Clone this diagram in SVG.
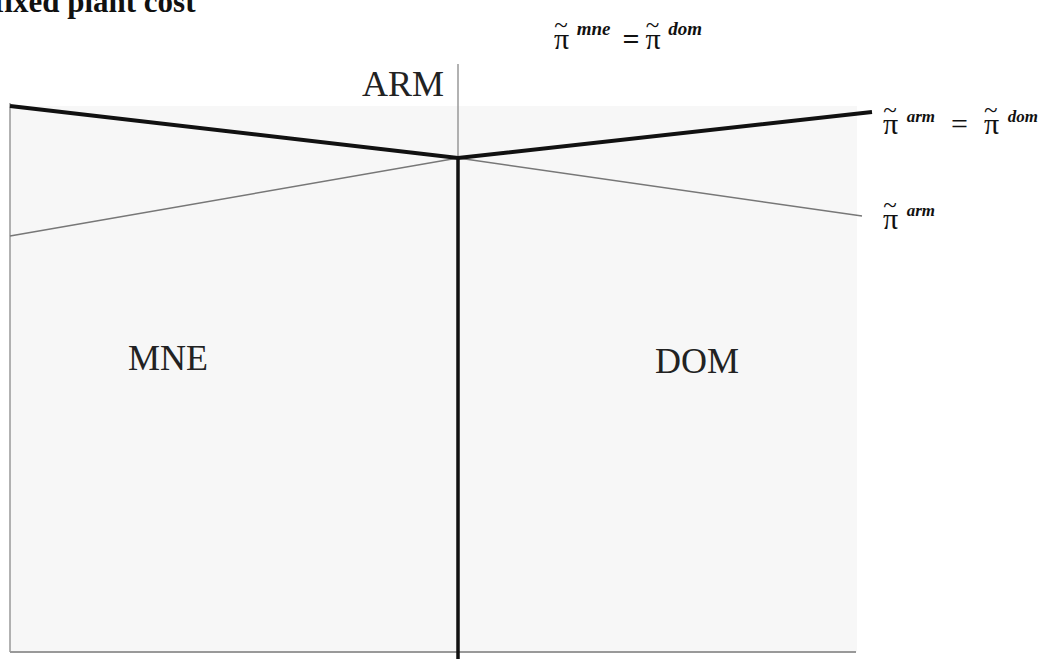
<svg xmlns="http://www.w3.org/2000/svg" width="1051" height="659" viewBox="0 0 1051 659">
<style>
.t{font-family:"Liberation Serif",serif;fill:#111}
.pi{font-family:"Liberation Serif",serif;font-size:30px;fill:#111}
.tl{font-size:25px}
.sup{font-family:"Liberation Serif",serif;font-size:19px;font-weight:bold;font-style:italic;fill:#111}
.sm{font-size:17px}
.lab{font-family:"Liberation Serif",serif;font-size:36px;fill:#222}
</style>
<rect width="1051" height="659" fill="#fff"/>
<g id="plot-area">
<rect x="10" y="106" width="847" height="546" fill="#f7f7f7"/>
<line x1="10" y1="103" x2="10" y2="652" stroke="#999" stroke-width="1.5"/>
<line x1="10" y1="652" x2="856" y2="652" stroke="#999" stroke-width="2"/>
</g>
<g id="connectors">
<line x1="458" y1="64" x2="458" y2="158" stroke="#999" stroke-width="1.5"/>
<line x1="458" y1="158" x2="458" y2="659" stroke="#111" stroke-width="3.5"/>
<polyline points="10,236 458,158 862,216" fill="none" stroke="#777" stroke-width="1.5"/>
<polyline points="10,106 458,158 872,112" fill="none" stroke="#111" stroke-width="4"/>
</g>
<g id="title">
<text class="t" x="-6" y="12" font-size="31" font-weight="bold">fixed plant cost</text>
</g>
<g id="top-formula">
<text class="pi" x="554" y="49">π<tspan class="tl" dx="-15" dy="-16">~</tspan><tspan class="sup" dx="9" dy="2">mne</tspan><tspan dx="12" dy="14" font-weight="bold">=</tspan><tspan dx="6">π</tspan><tspan class="tl" dx="-15" dy="-16">~</tspan><tspan class="sup" dx="9" dy="2">dom</tspan></text>
</g>
<g id="ARM"><text class="lab" x="362" y="96">ARM</text></g>
<g id="MNE"><text class="lab" x="128" y="370">MNE</text></g>
<g id="DOM"><text class="lab" x="655" y="373">DOM</text></g>
<g id="label-arm-dom">
<text class="pi" x="883" y="134">π<tspan class="tl" dx="-15" dy="-16">~</tspan><tspan class="sup sm" dx="10" dy="4">arm</tspan><tspan dx="16" dy="12">=</tspan><tspan dx="16">π</tspan><tspan class="tl" dx="-15" dy="-16">~</tspan><tspan class="sup sm" dx="10" dy="4">dom</tspan></text>
</g>
<g id="label-arm">
<text class="pi" x="883" y="229">π<tspan class="tl" dx="-15" dy="-16">~</tspan><tspan class="sup sm" dx="10" dy="3">arm</tspan></text>
</g>
</svg>
